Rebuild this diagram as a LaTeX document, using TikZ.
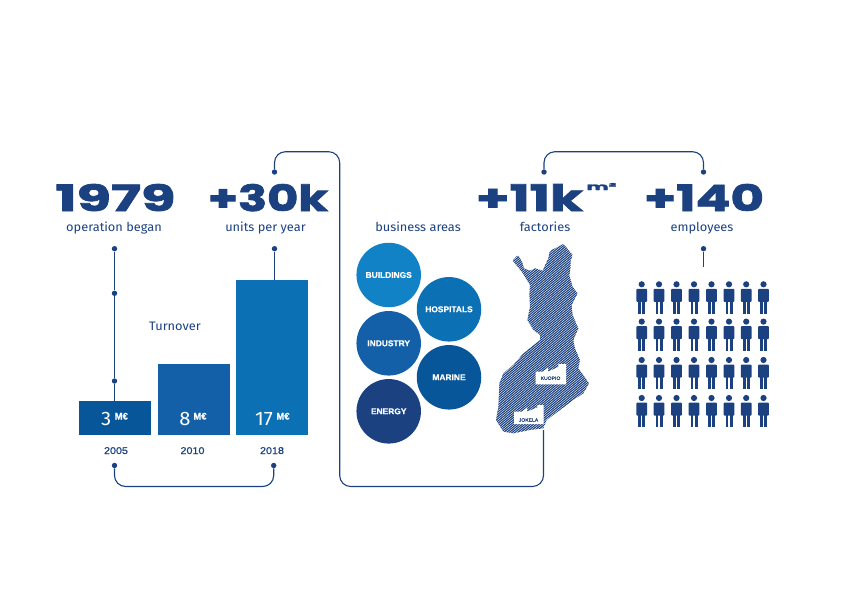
\documentclass[tikz,border=0pt]{standalone}
\usepackage{fontspec}
\usepackage{graphicx}
\newfontfamily\heavy[FakeBold=2.1,FakeStretch=1.2]{Poppins Bold}
\newfontfamily\capsf[FakeBold=0.5]{Liberation Sans Bold}
\newfontfamily\yearf[FakeBold=0.5,FakeStretch=1.1]{Liberation Sans}
\newfontfamily\lightf[FakeStretch=1.04]{Fira Sans}
\definecolor{navy}{HTML}{1B4180}
\definecolor{blueA}{HTML}{07569A}
\definecolor{blueB}{HTML}{1460A8}
\definecolor{blueC}{HTML}{0C70B5}
\definecolor{blueD}{HTML}{1282C6}
\tikzset{
  x=1pt,y=-1pt,
  dot/.style={circle,fill=navy,inner sep=0pt,minimum size=5.4pt},
  conn/.style={draw=navy,line width=1.1pt,rounded corners=11pt},
  stem/.style={draw=navy,line width=1.1pt},
  bigfig/.style={anchor=base,inner sep=0pt,text=navy},
  caption/.style={anchor=base,inner sep=0pt,text=navy,font=\lightf\fontsize{12.3}{14}\selectfont},
  yearlab/.style={anchor=base,inner sep=0pt,text=navy,font=\yearf\fontsize{9.8}{11}\selectfont},
  barbox/.style={anchor=north west,inner sep=0pt,minimum width=72pt},
  barval/.style={anchor=base,inner sep=0pt,text=white,font=\lightf\fontsize{19.5}{21}\selectfont},
  barunit/.style={anchor=base,inner sep=0pt,text=white,font=\capsf\fontsize{9.5}{11}\selectfont},
  area/.style={circle,inner sep=0pt,minimum size=64.5pt,text=white,font=\capsf\fontsize{8.4}{10}\selectfont},
  factlab/.style={inner sep=0pt,text=navy,font=\yearf\fontsize{4.6}{5}\selectfont},
}
\newcommand{\person}[2]{%
  \fill[navy] (#1,#2) circle[radius=3.1];
  \fill[navy,rounded corners=0.8pt] (#1-5.3,#2+4.6) rectangle (#1+5.3,#2+17.6);
  \fill[navy] (#1-3.5,#2+17) rectangle (#1-0.6,#2+29.3);
  \fill[navy] (#1+0.6,#2+17) rectangle (#1+3.5,#2+29.3);
}
\begin{document}
\begin{tikzpicture}
\useasboundingbox (0,0) rectangle (842,595);
\fill[white] (0,0) rectangle (842,595);

% big figures
\node[bigfig] (n1979) at (115.5,211) {\resizebox{120pt}{27pt}{\heavy 1979}};
\node[bigfig] (n30k) at (268,211) {\resizebox{120pt}{27pt}{\heavy +30k}};
\node[bigfig] (n11k) at (529.5,211) {\resizebox{107pt}{27pt}{\heavy +11k}};
\node[bigfig] (nm2) at (601.5,190) {\resizebox{30pt}{7pt}{\heavy m²}};
\node[bigfig] (n140) at (704,211) {\resizebox{120pt}{27pt}{\heavy +140}};

% captions
\node[caption] (c1979) at (114,231) {operation began};
\node[caption] (c30k) at (265.5,231) {units per year};
\node[caption] (careas) at (418,231) {business areas};
\node[caption] (c11k) at (545,231) {factories};
\node[caption] (c140) at (702,231) {employees};
\node[caption] (cturn) at (175,330.5) {Turnover};

% bars
\node[barbox,fill=blueA,minimum height=34pt] (bar1) at (78.5,401) {};
\node[barbox,fill=blueB,minimum height=71.5pt] (bar2) at (157.5,363.5) {};
\node[barbox,fill=blueC,minimum height=155pt] (bar3) at (236,280) {};
\node[barval] (v1) at (106.2,425.5) {3};
\node[barunit] (u1) at (121.3,419.5) {M€};
\node[barval] (v2) at (185,425.5) {8};
\node[barunit] (u2) at (200,419.5) {M€};
\node[barval] (v3) at (264,425.5) {17};
\node[barunit] (u3) at (283,419.5) {M€};
\node[yearlab] (y1) at (116,454) {2005};
\node[yearlab] (y2) at (192.5,454) {2010};
\node[yearlab] (y3) at (272,454) {2018};

% dots
\node[dot] (dA) at (114.5,248.7) {};
\node[dot] (dB) at (114.5,293.3) {};
\node[dot] (dC) at (114.5,381) {};
\node[dot] (dU) at (274.5,248.7) {};
\node[dot] (dT) at (274.5,172) {};
\node[dot] (dY1) at (114.5,465.5) {};
\node[dot] (dY3) at (273.7,465.5) {};
\node[dot] (dF) at (544,172) {};
\node[dot] (dE) at (703.5,172) {};
\node[dot] (dP) at (703.5,248.7) {};
\coordinate (barTopA) at (114.5,401);
\coordinate (barTopU) at (274.5,280);
\coordinate (pEnd) at (703.5,267);
\coordinate (c1) at (339.7,151.7);
\coordinate (c2) at (339.7,486.5);
\coordinate (c3) at (543.5,486.5);
\coordinate (jEnd) at (543.5,430);
\coordinate (cb) at (200,486.5);
\coordinate (ct) at (620,151.7);

% connectors
\draw[stem] (dA) -- (dB);
\draw[stem] (dB) -- (dC);
\draw[stem] (dC) -- (barTopA);
\draw[stem] (dU) -- (barTopU);
\draw[stem] (dP) -- (pEnd);
\draw[conn] (dY1) |- (cb) -| (dY3);
\draw[conn] (dF) |- (ct) -| (dE);
\draw[conn] (dT) |- (c1) -- (c2) -- (c3) -- (jEnd);

% business areas
\node[area,fill=blueD] (aB) at (388.7,275) {BUILDINGS};
\node[area,fill=blueC] (aH) at (449,309.3) {HOSPITALS};
\node[area,fill=blueB] (aI) at (388.7,343.3) {INDUSTRY};
\node[area,fill=blueA] (aM) at (449,377.3) {MARINE};
\node[area,fill=navy] (aE) at (388.7,411.3) {ENERGY};

% Finland map
\begin{scope}
\clip[shift={(480,240)},x=0.3333pt,y=-0.3333pt]
 (98,62)--(108,50)--(115,47)--(122,58)--(128,70)--(132,85)--(150,92)--(165,85)--(188,92)--(198,70)--(205,55)--(208,38)--(215,30)--(235,20)--(250,12)--(262,25)--(278,45)--(272,62)--(272,80)--(268,105)--(278,140)--(293,160)--(285,175)--(275,195)--(278,225)--(295,265)--(280,300)--(285,325)--(300,360)--(295,385)--(310,405)--(327,430)--(310,460)--(280,480)--(240,510)--(200,540)--(190,565)--(150,570)--(100,580)--(70,575)--(48,540)--(55,500)--(58,430)--(70,400)--(100,375)--(130,340)--(160,315)--(180,300)--(180,285)--(160,270)--(142,240)--(150,200)--(148,165)--(150,135)--(125,95)--cycle;
 \foreach \i in {0,...,160}{
   \draw[navy,line width=1.1pt] (460,{300+\i*2.3}) -- ++(160,-130);
 }
\end{scope}

% factories
\fill[white] (535.7,384.4) -- (535.7,371.7) -- (543,371.7) -- (548,367.5) -- (548,371.7) -- (558.3,367) -- (558.3,364) -- (566,364) -- (566,384.4) -- cycle;
\node[factlab] (fK) at (550.5,378.2) {KUOPIO};
\fill[white] (514,424) -- (514,411.7) -- (522,411.7) -- (527,407.5) -- (527,411.7) -- (537.3,407.5) -- (537.3,405) -- (543.5,405) -- (543.5,424) -- cycle;
\node[factlab] (fJ) at (528.5,420) {JOKELA};

% people
\foreach \py in {284.3,321.6,360,398}{
  \foreach \px in {641.7,659,676.5,694,711.5,729,746.2,763.5}{
    \person{\px}{\py}
  }
}
\end{tikzpicture}
\end{document}
